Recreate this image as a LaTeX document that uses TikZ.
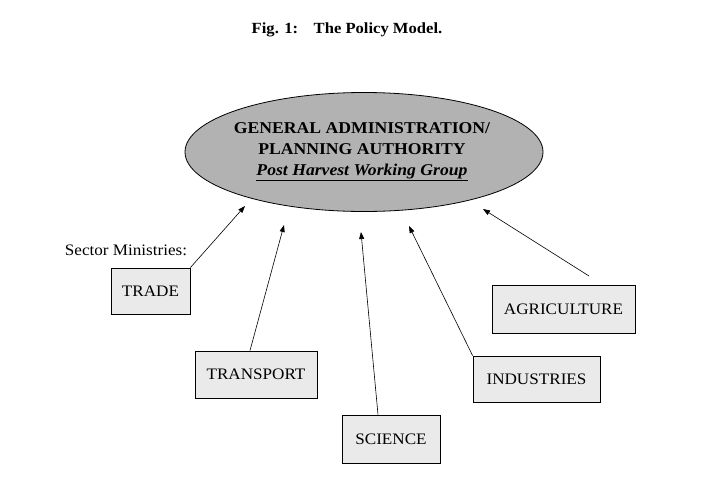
\documentclass[tikz,border=0pt]{standalone}
\usepackage{fontspec}
\setmainfont[FakeStretch=1.07]{Liberation Serif}
\usetikzlibrary{arrows.meta,shapes.geometric}
\definecolor{ellgray}{RGB}{178,178,178}
\definecolor{boxgray}{RGB}{234,234,234}
\begin{document}
\begin{tikzpicture}[x=1pt,y=-1pt,
  ministry/.style={draw=black,fill=boxgray,line width=0.8pt,inner sep=0pt,font=\fontsize{16}{18}\selectfont},
  link/.style={line width=0.6pt,-{Triangle[length=7pt,width=5pt]}}]
\useasboundingbox (0,0) rectangle (705,482);
\node[font=\fontsize{15.5}{17}\bfseries\selectfont] (title) at (347,30) {Fig. 1:\quad The Policy Model.};
\node[ellipse,draw=black,line width=0.8pt,fill=ellgray,minimum width=358pt,minimum height=119pt] (auth) at (364,152) {};
\node[font=\fontsize{16.5}{21}\bfseries\selectfont,align=center] (authtext) at (362,152)
  {GENERAL ADMINISTRATION/\\PLANNING AUTHORITY\\\textit{\underline{Post Harvest Working Group}}};
\node[font=\fontsize{16}{18}\selectfont] (sector) at (126,250) {Sector Ministries:};
\node[ministry,minimum width=79pt,minimum height=46pt] (trade) at (150.5,291) {TRADE};
\node[ministry,minimum width=122pt,minimum height=47pt] (transport) at (256,374.5) {TRANSPORT};
\node[ministry,minimum width=98pt,minimum height=48pt] (science) at (391,439) {SCIENCE};
\node[ministry,minimum width=127pt,minimum height=46pt] (industries) at (536.5,379) {INDUSTRIES};
\node[ministry,minimum width=143pt,minimum height=48pt] (agri) at (563.5,309) {AGRICULTURE};
\coordinate (t1) at (245,206);
\coordinate (t2) at (284,225);
\coordinate (t3) at (361,232);
\coordinate (t4) at (409,226);
\coordinate (t5) at (483,209);
\coordinate (a5) at (589,276);
\draw[link] (trade.north east) -- (t1);
\draw[link] ([xshift=-6pt]transport.north) -- (t2);
\draw[link] ([xshift=-13pt]science.north) -- (t3);
\draw[link] (industries.north west) -- (t4);
\draw[link] (a5) -- (t5);
\end{tikzpicture}
\end{document}
